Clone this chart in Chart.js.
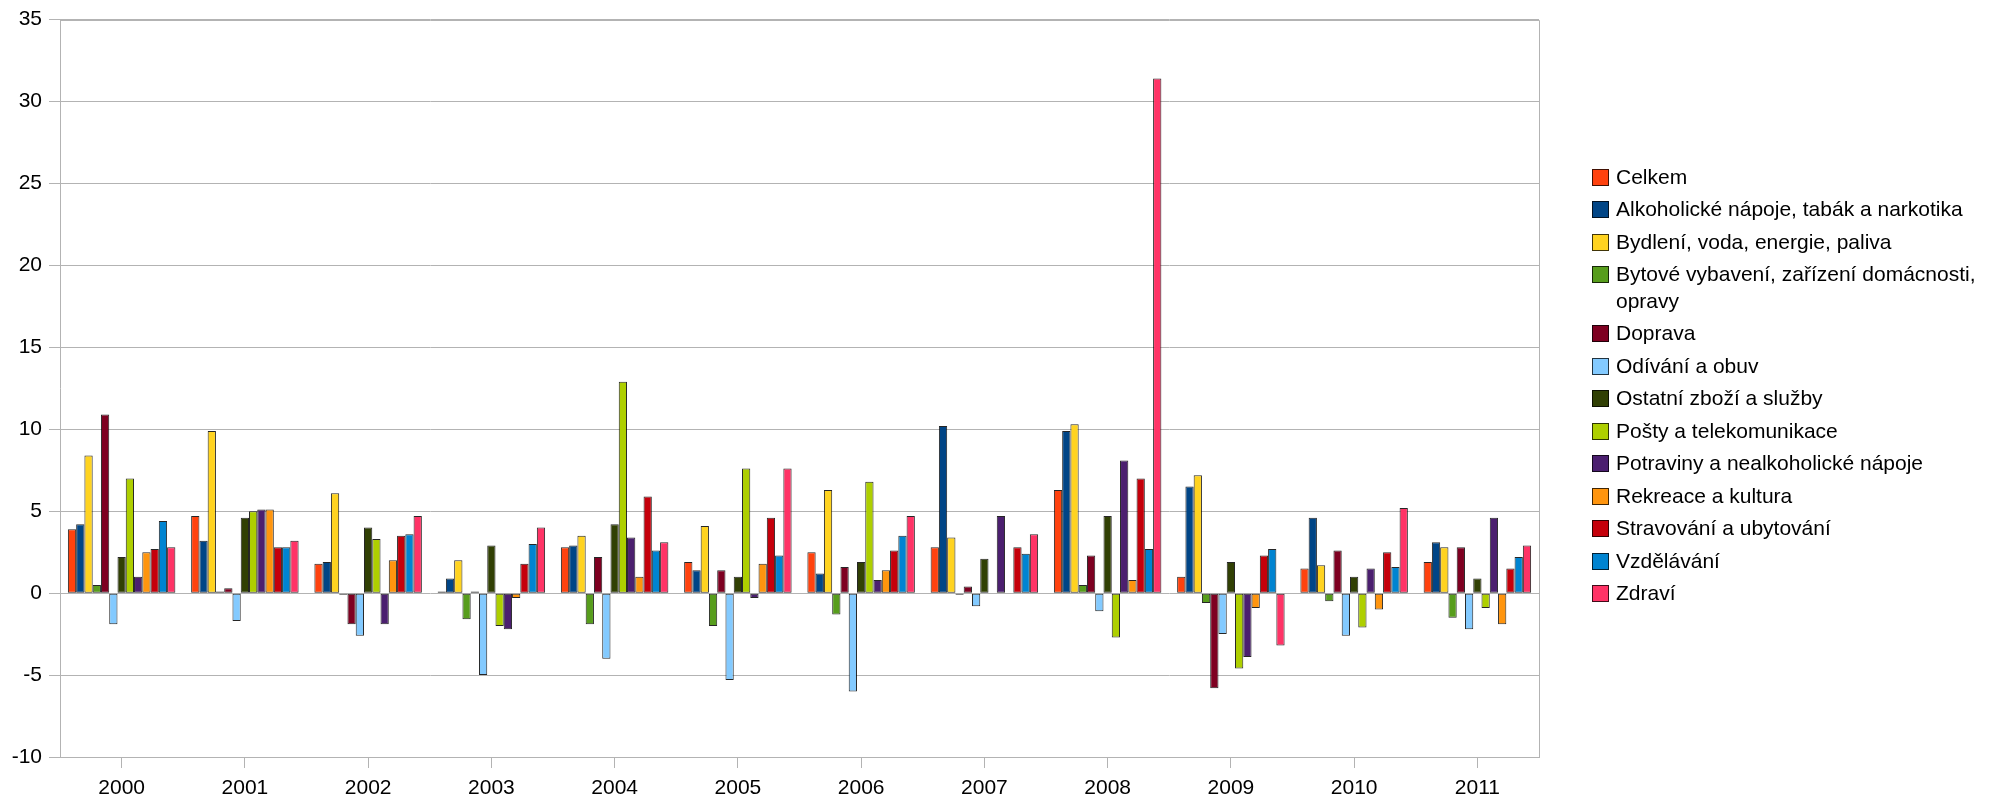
<!DOCTYPE html>
<html>
<head>
<meta charset="utf-8">
<script src="https://cdn.jsdelivr.net/npm/chart.js@4/dist/chart.umd.min.js"></script>
<style>
html, body { margin: 0; padding: 0; background: #fff; }
#wrap { width: 1991px; height: 799px; }
</style>
</head>
<body>
<div id="wrap"><canvas id="c" width="1991" height="799"></canvas></div>
<script>
const years = ['2000','2001','2002','2003','2004','2005','2006','2007','2008','2009','2010','2011'];

const celkem      = [3.9, 4.7, 1.8, 0.1, 2.8, 1.9, 2.5, 2.8, 6.3, 1.0, 1.5, 1.9];
const alkoholicke = [4.2, 3.2, 1.9, 0.9, 2.9, 1.4, 1.2, 10.2, 9.9, 6.5, 4.6, 3.1];
const bydleni     = [8.4, 9.9, 6.1, 2.0, 3.5, 4.1, 6.3, 3.4, 10.3, 7.2, 1.7, 2.8];
const bytove      = [0.5, 0.1, -0.1, -1.6, -1.9, -2.0, -1.3, -0.1, 0.5, -0.6, -0.5, -1.5];
const doprava     = [10.9, 0.3, -1.9, 0.1, 2.2, 1.4, 1.6, 0.4, 2.3, -5.8, 2.6, 2.8];
const odivani     = [-1.9, -1.7, -2.6, -5.0, -4.0, -5.3, -6.0, -0.8, -1.1, -2.5, -2.6, -2.2];
const ostatni     = [2.2, 4.6, 4.0, 2.9, 4.2, 1.0, 1.9, 2.1, 4.7, 1.9, 1.0, 0.9];
const posty       = [7.0, 5.0, 3.3, -2.0, 12.9, 7.6, 6.8, 0.0, -2.7, -4.6, -2.1, -0.9];
const potraviny   = [1.0, 5.1, -1.9, -2.2, 3.4, -0.3, 0.8, 4.7, 8.1, -3.9, 1.5, 4.6];
const rekreace    = [2.5, 5.1, 2.0, -0.3, 1.0, 1.8, 1.4, 0.0, 0.8, -0.9, -1.0, -1.9];
const stravovani  = [2.7, 2.8, 3.5, 1.8, 5.9, 4.6, 2.6, 2.8, 7.0, 2.3, 2.5, 1.5];
const vzdelavani  = [4.4, 2.8, 3.6, 3.0, 2.6, 2.3, 3.5, 2.4, 2.7, 2.7, 1.6, 2.2];
const zdravi      = [2.8, 3.2, 4.7, 4.0, 3.1, 7.6, 4.7, 3.6, 31.4, -3.2, 5.2, 2.9];

const seriesLabels = [
  'Celkem',
  'Alkoholické nápoje, tabák a narkotika',
  'Bydlení, voda, energie, paliva',
  'Bytové vybavení, zařízení domácnosti, opravy',
  'Doprava',
  'Odívání a obuv',
  'Ostatní zboží a služby',
  'Pošty a telekomunikace',
  'Potraviny a nealkoholické nápoje',
  'Rekreace a kultura',
  'Stravování a ubytování',
  'Vzdělávání',
  'Zdraví'
];
const seriesValues = [celkem, alkoholicke, bydleni, bytove, doprava, odivani, ostatni, posty, potraviny, rekreace, stravovani, vzdelavani, zdravi];
const seriesColors = ['#ff420e','#004586','#ffd320','#579d1c','#7e0021','#83caff','#314004','#aecf00','#4b1f6f','#ff950e','#c5000b','#0084d1','#ff3366'];

const yMin = -10, yMax = 35, yStep = 5;

const FONT = '"Liberation Sans", Arial, sans-serif';
const GRID = '#b3b3b3';

const frameAndLegend = {
  id: 'frameAndLegend',
  afterDraw(chart) {
    const ctx = chart.ctx;
    const a = chart.chartArea;
    ctx.save();
    ctx.strokeStyle = GRID;
    ctx.lineWidth = 1;
    ctx.beginPath();
    ctx.moveTo(Math.round(a.left) + 0.5, Math.round(a.top) + 0.5);
    ctx.lineTo(Math.round(a.right) + 0.5, Math.round(a.top) + 0.5);
    ctx.lineTo(Math.round(a.right) + 0.5, Math.round(a.bottom) + 0.5);
    ctx.stroke();

    // legend
    const boxX = 1592, textX = 1616, box = 17;
    const rowGap = 32.5, lineH = 26.5;
    const maxW = chart.width - textX - 2;
    ctx.font = '21px ' + FONT;
    ctx.textBaseline = 'middle';
    ctx.textAlign = 'left';
    let y = 177;
    chart.data.datasets.forEach((ds) => {
      const words = ds.label.split(' ');
      const lines = [];
      let cur = '';
      words.forEach(w => {
        const t = cur ? cur + ' ' + w : w;
        if (ctx.measureText(t).width > maxW && cur) { lines.push(cur); cur = w; }
        else cur = t;
      });
      if (cur) lines.push(cur);
      ctx.fillStyle = ds.backgroundColor;
      ctx.fillRect(boxX, Math.round(y - box / 2), box, box);
      ctx.strokeStyle = 'rgba(0,0,0,0.75)';
      ctx.strokeRect(boxX + 0.5, Math.round(y - box / 2) + 0.5, box - 1, box - 1);
      ctx.fillStyle = '#000';
      lines.forEach((ln, i) => ctx.fillText(ln, textX, y + i * lineH + 1));
      y += rowGap + (lines.length - 1) * lineH;
    });
    ctx.restore();
  }
};

new Chart(document.getElementById('c'), {
  type: 'bar',
  data: {
    labels: years,
    datasets: seriesLabels.map((lab, i) => ({
      label: lab,
      data: seriesValues[i],
      backgroundColor: seriesColors[i],
      borderColor: 'rgba(0,0,0,0.85)',
      borderWidth: 1,
      borderSkipped: false,
      categoryPercentage: 0.872,
      barPercentage: 1.0
    }))
  },
  options: {
    responsive: false,
    animation: false,
    devicePixelRatio: 1,
    layout: { padding: { top: 19, right: 452, left: 0, bottom: 0 } },
    plugins: {
      legend: { display: false },
      tooltip: { enabled: false },
      title: { display: false }
    },
    scales: {
      x: {
        grid: { display: true, drawOnChartArea: false, drawTicks: true, tickLength: 11, color: GRID, offset: false },
        border: { display: true, color: GRID },
        ticks: { color: '#000', font: { family: FONT, size: 21 }, padding: 8, maxRotation: 0 },
        afterFit(scale) { scale.height = 42; }
      },
      y: {
        min: yMin, max: yMax,
        ticks: { stepSize: yStep, color: '#000', font: { family: FONT, size: 21 }, padding: 7 },
        grid: { color: GRID, tickLength: 11, drawTicks: true },
        border: { display: true, color: GRID },
        afterFit(scale) { scale.width = 60; }
      }
    }
  },
  plugins: [frameAndLegend]
});
</script>
</body>
</html>
